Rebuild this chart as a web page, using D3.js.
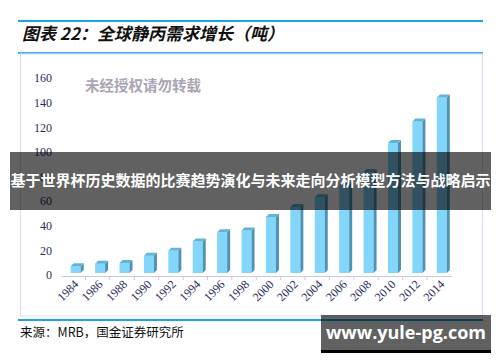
<!DOCTYPE html>
<html>
<head>
<meta charset="utf-8">
<script src="https://cdn.jsdelivr.net/npm/d3@7"></script>
<style>
  body { margin: 0; background: #fff; }
  svg { display: block; }
</style>
</head>
<body>
<div id="chart"></div>
<script>
// data
var years = ["1984", "1986", "1988", "1990", "1992", "1994", "1996", "1998",
             "2000", "2002", "2004", "2006", "2008", "2010", "2012", "2014"];
var tons = [8, 10, 10.5, 16.5, 20.5, 28, 35.5, 37, 48, 56, 64, 74, 84.5, 108, 125.5, 145];
var yTicks = [0, 20, 40, 60, 80, 100, 120, 140, 160];

var W = 500, H = 362;

var svg = d3.select("#chart")
    .append("svg")
    .attr("width", W)
    .attr("height", H);

// header lines + title
svg.append("line")
    .attr("x1", 18).attr("x2", 483).attr("y1", 21).attr("y2", 21)
    .attr("stroke", "#1aa3e8").attr("stroke-width", 2);
svg.append("text")
    .attr("x", 22)
    .attr("y", 40)
    .style("font-family", "'Noto Sans CJK SC'")
    .style("font-size", "17px")
    .style("font-weight", "bold")
    .style("font-style", "italic")
    .attr("fill", "#111")
    .text("图表 22：全球静丙需求增长（吨）");
svg.append("line")
    .attr("x1", 18).attr("x2", 483).attr("y1", 53).attr("y2", 53)
    .attr("stroke", "#48b4ee").attr("stroke-width", 2);

// chart frame
svg.append("rect")
    .attr("x", 20.5).attr("y", 54)
    .attr("width", 462).attr("height", 262)
    .attr("fill", "#fff")
    .attr("stroke", "#dcdcf0");

// scales
var x = d3.scaleBand()
    .domain(years)
    .range([61, 451.5]);

var y = d3.scaleLinear()
    .domain([0, 160])
    .range([275, 78]);

// y labels (no axis line in the original)
var yAxis = svg.append("g")
    .attr("transform", "translate(52,0)")
    .call(d3.axisLeft(y).tickValues(yTicks).tickSize(0).tickPadding(0));
yAxis.select(".domain").remove();
yAxis.selectAll("text")
    .style("font-family", "'Liberation Serif'")
    .style("font-size", "12px")
    .attr("fill", "#2b2b5e");

// x axis
var xAxis = svg.append("g")
    .attr("transform", "translate(0,276)")
    .call(d3.axisBottom(x).tickSizeOuter(0).tickSize(0));
xAxis.select(".domain").attr("stroke", "#c9c9e6");
xAxis.selectAll(".tick line").remove();
// ticks between categories
xAxis.selectAll(".sep")
    .data(years.slice(1))
    .enter()
    .append("line")
    .attr("x1", function (d) { return x(d); })
    .attr("x2", function (d) { return x(d); })
    .attr("y1", 0)
    .attr("y2", 4)
    .attr("stroke", "#c9c9e6");
xAxis.selectAll(".tick text")
    .attr("transform", "translate(3,6) rotate(-45)")
    .attr("text-anchor", "end")
    .attr("dy", "0.35em")
    .attr("y", 0)
    .attr("x", 0)
    .style("font-family", "'Liberation Serif'")
    .style("font-size", "12px")
    .attr("fill", "#2b2b5e");

// 3d-ish bars
var bw = 10, depth = 3, lift = 2;
var bars = svg.append("g").selectAll("g")
    .data(years)
    .enter()
    .append("g");

bars.append("rect")
    .attr("x", function (d) { return x(d) + x.bandwidth() / 2 - bw / 2 + 2.5; })
    .attr("y", function (d, i) { return y(tons[i]) - lift + depth; })
    .attr("width", bw)
    .attr("height", function (d, i) { return y(0) - y(tons[i]) - depth; })
    .attr("fill", "#82d5fb");

bars.append("path")
    .attr("d", function (d, i) {
        var x0 = x(d) + x.bandwidth() / 2 - bw / 2 + 2.5 + bw;
        var t = y(tons[i]) - lift + depth, b = y(0) - lift;
        return "M" + x0 + "," + t + "L" + (x0 + depth) + "," + (t - depth) +
            "L" + (x0 + depth) + "," + (b - depth) + "L" + x0 + "," + b + "Z";
    })
    .attr("fill", "#4f93b1");

bars.append("path")
    .attr("d", function (d, i) {
        var x0 = x(d) + x.bandwidth() / 2 - bw / 2 + 2.5;
        var t = y(tons[i]) - lift + depth;
        return "M" + x0 + "," + t + "L" + (x0 + depth) + "," + (t - depth) +
            "L" + (x0 + bw + depth) + "," + (t - depth) + "L" + (x0 + bw) + "," + t + "Z";
    })
    .attr("fill", "#62b4d6");

// faint watermark
svg.append("text")
    .attr("x", 85)
    .attr("y", 91)
    .style("font-family", "'Noto Sans CJK SC'")
    .style("font-size", "14.5px")
    .style("font-weight", "bold")
    .attr("fill", "#aaa4b4")
    .text("未经授权请勿转载");

// bottom blue line + source
svg.append("line")
    .attr("x1", 18).attr("x2", 483).attr("y1", 320).attr("y2", 320)
    .attr("stroke", "#1aa3e8").attr("stroke-width", 2);
svg.append("text")
    .attr("x", 20)
    .attr("y", 337)
    .style("font-family", "'Noto Sans CJK SC'")
    .style("font-size", "12.5px")
    .attr("fill", "#111")
    .text("来源：MRB，国金证券研究所");

// grey overlay band
svg.append("rect")
    .attr("x", 10).attr("y", 152)
    .attr("width", 481).attr("height", 58)
    .attr("fill", "#000").attr("fill-opacity", 0.62);
svg.append("text")
    .attr("x", 250.5)
    .attr("y", 181)
    .attr("dy", "0.36em")
    .attr("text-anchor", "middle")
    .style("font-family", "'Noto Sans CJK SC'")
    .style("font-size", "15px")
    .style("font-weight", "bold")
    .attr("fill", "#fff")
    .text("基于世界杯历史数据的比赛趋势演化与未来走向分析模型方法与战略启示");

// site badge
svg.append("rect")
    .attr("x", 321).attr("y", 315)
    .attr("width", 170).attr("height", 35)
    .attr("fill", "#000").attr("fill-opacity", 0.62);
svg.append("rect")
    .attr("x", 321).attr("y", 350)
    .attr("width", 170).attr("height", 3)
    .attr("fill", "#000");
svg.append("text")
    .attr("x", 406)
    .attr("y", 333)
    .attr("dy", "0.36em")
    .attr("text-anchor", "middle")
    .style("font-family", "'Open Sans'")
    .style("font-size", "18px")
    .style("font-weight", "bold")
    .attr("fill", "#fff")
    .text("www.yule-pg.com");
</script>
</body>
</html>
